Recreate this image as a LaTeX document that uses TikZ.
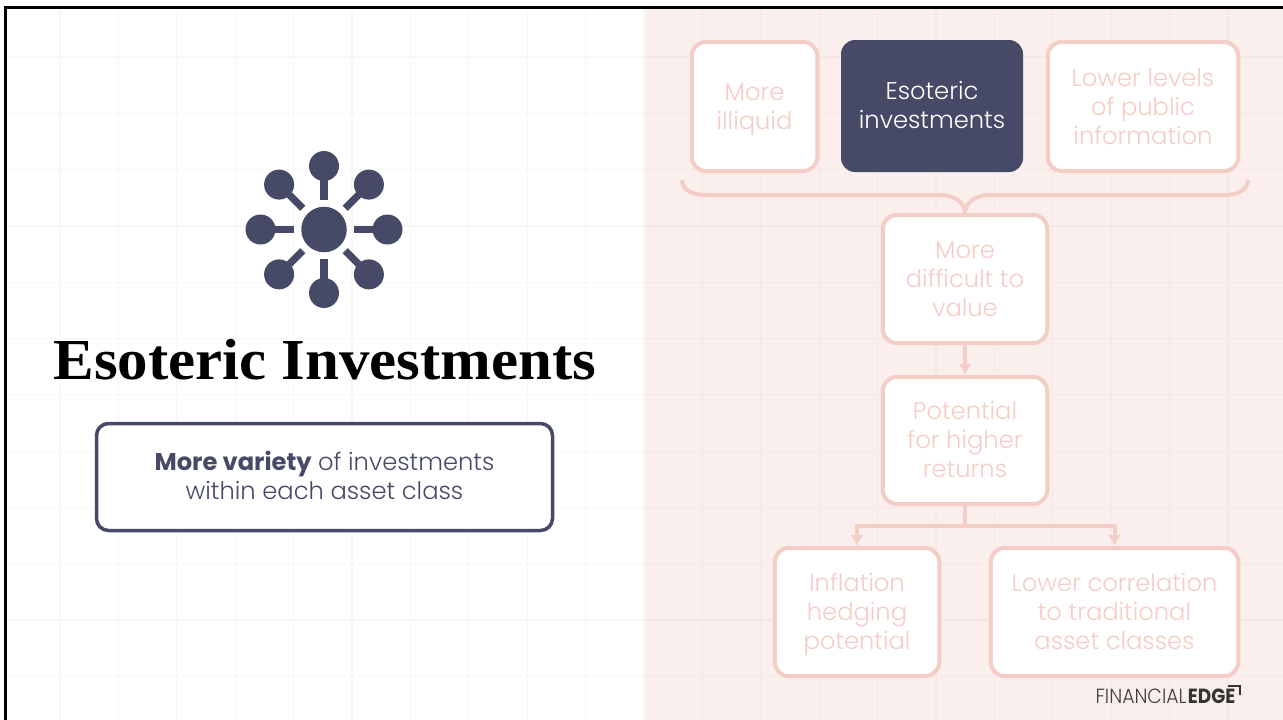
\documentclass[tikz,border=0pt]{standalone}
\usepackage{fontspec}
\setmainfont{Poppins}
\newfontfamily\lightfont{Poppins Light}
\newfontfamily\titlefont{Liberation Serif}
\usetikzlibrary{arrows.meta,calc}
\definecolor{myslate}{RGB}{70,74,102}
\definecolor{mypink}{RGB}{244,205,198}
\definecolor{mypanel}{RGB}{250,239,236}
\definecolor{mygridl}{RGB}{247,247,247}
\definecolor{mygridr}{RGB}{244,232,229}

\begin{document}
\begin{tikzpicture}[x=1pt,y=-1pt,
  pinkbox/.style={draw=mypink,fill=white,line width=4pt,rounded corners=14pt,align=center,
    text=mypink,font=\fontsize{24.2}{29}\selectfont\lightfont,inner sep=0pt,text depth=0pt},
  darkbox/.style={fill=myslate,rounded corners=14pt,align=center,text=white,
    font=\fontsize{24.2}{29}\selectfont\lightfont,inner sep=0pt,text depth=2pt},
  pinkline/.style={draw=mypink,line width=4pt},
  pinkarrow/.style={pinkline,-{Latex[length=11pt,width=13pt]}},
  hubnode/.style={circle,fill=myslate,inner sep=0pt,minimum size=45.5pt},
  satnode/.style={circle,fill=myslate,inner sep=0pt,minimum size=30pt},
  spoke/.style={draw=myslate,line width=7.3pt}
]
\useasboundingbox (0,0) rectangle (1283,720);

% the background
\fill[white] (0,0) rectangle (1283,720);
\fill[mypanel] (644,8) rectangle (1283,720);
\foreach \i in {0,...,20} {
  \pgfmathsetmacro{\gx}{60+58.4*\i}
  \ifdim\gx pt<644pt
    \draw[mygridl,line width=1.2pt] (\gx,9) -- (\gx,720);
  \else
    \draw[mygridr,line width=1.2pt] (\gx,9) -- (\gx,720);
  \fi
}
\foreach \i in {0,...,11} {
  \pgfmathsetmacro{\gy}{57+56.3*\i}
  \draw[mygridl,line width=1.2pt] (7,\gy) -- (644,\gy);
  \draw[mygridr,line width=1.2pt] (644,\gy) -- (1283,\gy);
}
\draw[black,line width=3pt] (5.5,720) -- (5.5,7.5) -- (1283,7.5);

% the icon
\node[hubnode] (hub) at (324,229.5) {};
\foreach \a in {0,45,...,315} {
  \node[satnode] (sat\a) at ($(324,229.5)+(\a:63.5)$) {};
  \draw[spoke,shorten <=7pt,shorten >=-1pt] (hub) -- (sat\a);
}

% the title and its box
\node[inner sep=0pt,xscale=1.05,font=\fontsize{58}{60}\selectfont\titlefont\bfseries] (title) at (325,360) {Esoteric Investments};
\node[draw=myslate,line width=3.5pt,rounded corners=12pt,fill=white,minimum width=456pt,minimum height=107pt,
  align=center,text=myslate,inner sep=0pt,text depth=4pt,font=\fontsize{24.2}{29}\selectfont] (variety) at (324.5,477)
  {\textbf{More variety} {\lightfont of investments}\\{\lightfont within each asset class}};

% the boxes
\node[pinkbox,minimum width=125.5pt,minimum height=129pt] (illiquid) at (754.5,106.5) {More\\illiquid};
\node[darkbox,minimum width=182pt,minimum height=132pt] (esoteric) at (932,106) {Esoteric\\investments};
\node[pinkbox,minimum width=190.5pt,minimum height=129pt] (levels) at (1143,106.5) {Lower levels\\of public\\information};
\node[pinkbox,minimum width=164.5pt,minimum height=128pt] (value) at (965,279) {More\\difficult to\\value};
\node[pinkbox,text depth=2pt,minimum width=164.5pt,minimum height=127pt] (returns) at (965,440.5) {Potential\\for higher\\returns};
\node[pinkbox,text depth=2pt,minimum width=164.5pt,minimum height=128pt] (hedge) at (857,612) {Inflation\\hedging\\potential};
\node[pinkbox,text depth=2pt,minimum width=247.5pt,minimum height=128pt] (corr) at (1114.5,612) {Lower correlation\\to traditional\\asset classes};

% the brace
\coordinate (braceL) at (682,180);
\coordinate (braceR) at (1248,180);
\draw[pinkline] (braceL) .. controls (682,189) and (691,195) .. (706,195) -- (940,195)
  .. controls (955,195) and (965,203) .. (value.north);
\draw[pinkline] (braceR) .. controls (1248,189) and (1239,195) .. (1224,195) -- (990,195)
  .. controls (975,195) and (965,203) .. (value.north);

% the arrows
\draw[pinkarrow] (value) -- (returns);
\draw[pinkarrow] (returns.south) -- ++(0,20) -| (hedge.north);
\draw[pinkarrow] (returns.south) -- ++(0,20) -| (corr.north);

% the logo
\node[inner sep=0pt,anchor=base west,text=black!75,font=\fontsize{20.5}{22}\selectfont\lightfont,xscale=.92] (fin) at (1095.5,703) {FINANCIAL};
\node[inner sep=0pt,anchor=base east,text=black!80,font=\fontsize{20.5}{22}\selectfont\bfseries,xscale=.9] (edge) at (1235.5,703) {EDGE};
\draw[black!80,line width=2pt] (1228,685.5) -- (1240,685.5) -- (1240,695);
\end{tikzpicture}
\end{document}
